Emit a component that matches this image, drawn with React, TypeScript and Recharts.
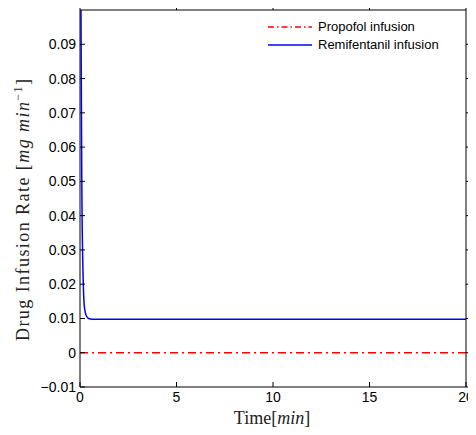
import { Line, LineChart, XAxis, YAxis, Label } from 'recharts';

const timeMin = [0, 0.05, 0.1, 0.15, 0.2, 0.25, 0.3, 0.4, 0.5, 0.6, 0.8, 1, 2, 5, 10, 15, 20];
const remifentanil = [0.6, 0.1, 0.045, 0.025, 0.0155, 0.0125, 0.0112, 0.0102, 0.0099, 0.0098, 0.0098, 0.0098, 0.0098, 0.0098, 0.0098, 0.0098, 0.0098];
const propofol = [0, 0, 0, 0, 0, 0, 0, 0, 0, 0, 0, 0, 0, 0, 0, 0, 0];
const xTicks = [0, 5, 10, 15, 20];
const yTicks = [-0.01, 0, 0.01, 0.02, 0.03, 0.04, 0.05, 0.06, 0.07, 0.08, 0.09];

const data = timeMin.map((t, i) => ({ t, propofol: propofol[i], remi: remifentanil[i] }));

const tickFont = { fontFamily: 'Liberation Sans, Arial, sans-serif', fontSize: 14, fill: '#000' };
const fmtY = (v: number) => (v < 0 ? '\u2212' + Math.abs(v).toFixed(2) : v === 0 ? '0' : v.toFixed(2));
const noTick = () => <g />;

function LegendBox() {
    return (
        <div style={{ position: 'absolute', top: 18, left: 268, fontFamily: 'Liberation Sans, Arial, sans-serif', fontSize: 13, color: '#000', lineHeight: '18px' }}>
            <div style={{ display: 'flex', alignItems: 'center' }}>
                <svg width={44} height={10}><line x1={0} y1={5} x2={44} y2={5} stroke="#ff0000" strokeWidth={1.3} strokeDasharray="6 3 1.5 3" /></svg>
                <span style={{ marginLeft: 6 }}>Propofol infusion</span>
            </div>
            <div style={{ display: 'flex', alignItems: 'center' }}>
                <svg width={44} height={10}><line x1={0} y1={5} x2={44} y2={5} stroke="#0000ff" strokeWidth={1.5} /></svg>
                <span style={{ marginLeft: 6 }}>Remifentanil infusion</span>
            </div>
        </div>
    );
}

export default function App() {
    return (
        <div style={{ margin: -8, position: 'relative', width: 476, height: 435 }}>
            <LineChart width={476} height={435} data={data} margin={{ top: 9, right: 9, bottom: 18, left: 0 }}>
                <XAxis dataKey="t" type="number" domain={[0, 20]} ticks={xTicks} xAxisId="b"
                    stroke="#000" tickSize={-5} tickMargin={10} tick={tickFont} height={30} interval={0}>
                    <Label position="bottom" offset={2} content={() => (
                        <text x={272} y={424} textAnchor="middle" fontFamily="Liberation Serif, DejaVu Serif, serif" fontSize={18} fill="#222">
                            Time[<tspan fontStyle="italic">min</tspan>]
                        </text>
                    )} />
                </XAxis>
                <XAxis dataKey="t" type="number" domain={[0, 20]} ticks={xTicks} xAxisId="top" orientation="top"
                    stroke="#000" tickSize={5} tick={noTick} height={1} />
                <YAxis type="number" domain={[-0.01, 0.1]} ticks={yTicks} allowDataOverflow yAxisId="l"
                    stroke="#000" tickSize={-5} tickMargin={9} tick={tickFont} tickFormatter={fmtY} width={80} interval={0}>
                    <Label content={() => (
                        <text x={29} y={210} transform="rotate(-90 29 210)" textAnchor="middle" fontFamily="Liberation Serif, DejaVu Serif, serif" fontSize={18} fill="#222"
                            textLength={262} lengthAdjust="spacing">
                            Drug Infusion Rate [<tspan fontStyle="italic">mg min</tspan><tspan dy={-7} fontSize={12}>−1</tspan><tspan dy={7}>]</tspan>
                        </text>
                    )} />
                </YAxis>
                <YAxis type="number" domain={[-0.01, 0.1]} ticks={yTicks} allowDataOverflow yAxisId="r" orientation="right"
                    stroke="#000" tickSize={5} tick={noTick} width={1} />
                <Line xAxisId="b" yAxisId="l" dataKey="propofol" type="linear" stroke="#ff0000" strokeWidth={1.3}
                    strokeDasharray="8 4 2 4" dot={false} isAnimationActive={false} />
                <Line xAxisId="b" yAxisId="l" dataKey="remi" type="monotone" stroke="#0000ff" strokeWidth={1.5}
                    dot={false} isAnimationActive={false} />
            </LineChart>
            <LegendBox />
        </div>
    );
}
